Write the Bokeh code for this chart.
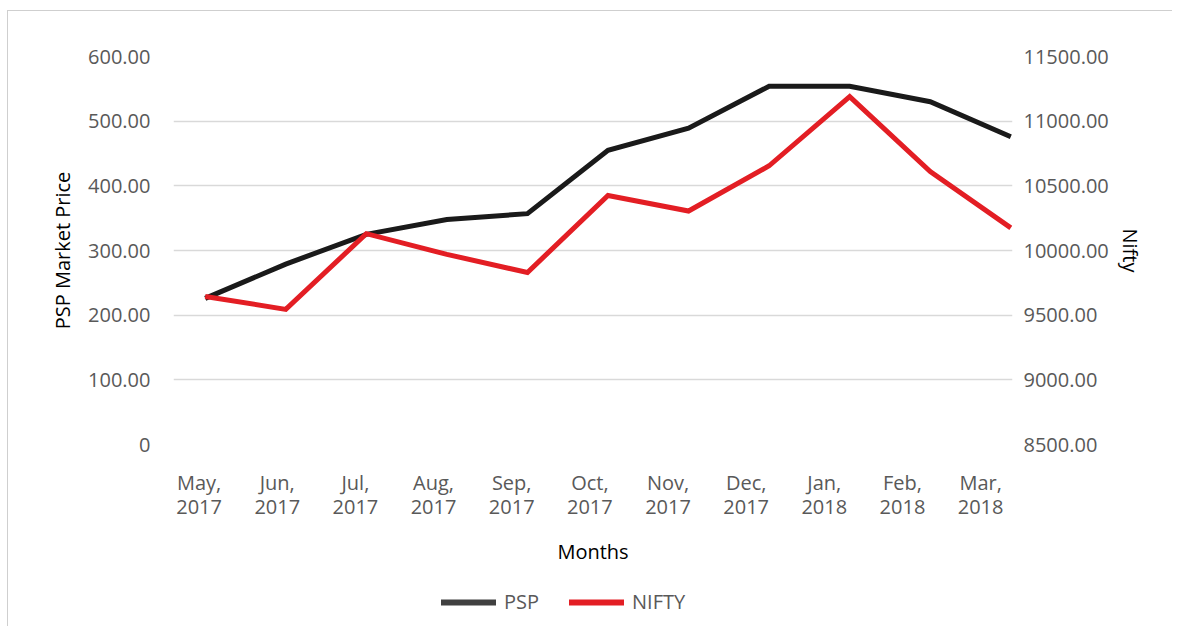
from bokeh.plotting import figure
from bokeh.layouts import column
from bokeh.models import (Range1d, LinearAxis, FixedTicker, NumeralTickFormatter,
                          CustomJSTickFormatter, Legend, LegendItem, ColumnDataSource)
from bokeh.embed import file_html
from bokeh.resources import INLINE

months = ["May,\n2017", "Jun,\n2017", "Jul,\n2017", "Aug,\n2017", "Sep,\n2017", "Oct,\n2017",
          "Nov,\n2017", "Dec,\n2017", "Jan,\n2018", "Feb,\n2018", "Mar,\n2018"]
psp = [226, 279, 325, 348, 357, 455, 489, 554, 554, 530, 476]
nifty = [9645, 9545, 10130, 9970, 9830, 10425, 10305, 10655, 11190, 10610, 10175]
psp_ticks = [0, 100, 200, 300, 400, 500, 600]
nifty_ticks = [8500, 9000, 9500, 10000, 10500, 11000, 11500]
series_names = ["PSP", "NIFTY"]

FONT = "Open Sans"
TICK_COLOR = "#595959"

x = list(range(len(months)))
src = ColumnDataSource(dict(x=x, psp=psp, nifty=nifty))

p = figure(frame_width=839, frame_height=388, output_backend="svg", toolbar_location=None,
           x_range=Range1d(-0.3935, 10.021), y_range=Range1d(0, 600),
           min_border_left=165, min_border_right=160, min_border_top=45, min_border_bottom=130)
p.outline_line_color = None
p.extra_y_ranges = {"nifty": Range1d(8500, 11500)}

p.line("x", "psp", source=src, line_color="#1a1a1a", line_width=5, line_join="miter")
p.line("x", "nifty", source=src, y_range_name="nifty", line_color="#e31e24",
       line_width=5, line_join="miter")

xa = p.xaxis[0]
label_pos = [-0.0757 + 0.9701 * i for i in range(len(months))]
xa.ticker = FixedTicker(ticks=label_pos)
xa.formatter = CustomJSTickFormatter(args=dict(labels=months), code="return labels[index];")
xa.axis_line_color = None
xa.major_tick_line_color = None
xa.minor_tick_line_color = None
xa.major_label_standoff = 18
xa.major_label_text_font = FONT
xa.major_label_text_font_size = "20px"
xa.major_label_text_line_height = 0.92
xa.major_label_text_color = TICK_COLOR
xa.axis_label = "Months"
xa.axis_label_text_font = FONT
xa.axis_label_text_font_size = "20px"
xa.axis_label_text_font_style = "normal"
xa.axis_label_text_color = "#000000"
xa.axis_label_standoff = 15

ya = p.yaxis[0]
ya.ticker = FixedTicker(ticks=psp_ticks)
ya.formatter = NumeralTickFormatter(format="0.00")
ya.major_label_overrides = {0: "0"}
ya.axis_line_color = None
ya.major_tick_line_color = None
ya.minor_tick_line_color = None
ya.major_label_standoff = 17
ya.major_label_text_font = FONT
ya.major_label_text_font_size = "20px"
ya.major_label_text_color = TICK_COLOR
ya.axis_label = "PSP Market Price"
ya.axis_label_text_font = FONT
ya.axis_label_text_font_size = "20px"
ya.axis_label_text_color = "#000000"
ya.axis_label_text_font_style = "normal"
ya.axis_label_standoff = 9

ra = LinearAxis(y_range_name="nifty", ticker=FixedTicker(ticks=nifty_ticks),
                formatter=NumeralTickFormatter(format="0.00"))
ra.axis_line_color = None
ra.major_tick_line_color = None
ra.minor_tick_line_color = None
ra.major_label_standoff = 5
ra.major_label_text_font = FONT
ra.major_label_text_font_size = "20px"
ra.major_label_text_color = TICK_COLOR
ra.axis_label = "Nifty"
ra.axis_label_text_font = FONT
ra.axis_label_text_font_size = "20px"
ra.axis_label_text_font_style = "normal"
ra.axis_label_text_color = "#000000"
ra.axis_label_standoff = 5
p.add_layout(ra, "right")

p.xgrid.visible = False
p.ygrid.ticker = FixedTicker(ticks=psp_ticks)
p.ygrid.grid_line_color = "#d9d9d9"
p.ygrid.grid_line_width = 1.5

# legend strip (separate small figure under the chart); its lines fall outside its view
pl = figure(width=1164, height=52, output_backend="svg", toolbar_location=None,
            x_range=Range1d(-100, -99), y_range=Range1d(-100, -99),
            x_axis_type=None, y_axis_type=None, min_border=0)
pl.outline_line_color = None
pl.grid.visible = False
lg1 = pl.line("x", "psp", source=src, line_color="#404040", line_width=6, line_cap="round")
lg2 = pl.line("x", "nifty", source=src, line_color="#e31e24", line_width=6, line_cap="round")

legend = Legend(items=[LegendItem(label=series_names[0], renderers=[lg1]),
                       LegendItem(label=series_names[1], renderers=[lg2])],
                orientation="horizontal", location=(268, 11))
legend.border_line_color = None
legend.background_fill_alpha = 0
legend.glyph_width = 55
legend.glyph_height = 20
legend.label_standoff = 8
legend.spacing = 30
legend.padding = 5
legend.margin = 0
legend.label_text_font = FONT
legend.label_text_font_size = "20px"
legend.label_text_color = TICK_COLOR
pl.add_layout(legend, "center")

layout = column(p, pl, spacing=0)
layout.styles = {"border-left": "1px solid #cfcfcf", "border-top": "1px solid #cfcfcf",
                 "margin-left": "7px", "margin-top": "10px"}

open("out.html", "w").write(file_html(layout, INLINE))
